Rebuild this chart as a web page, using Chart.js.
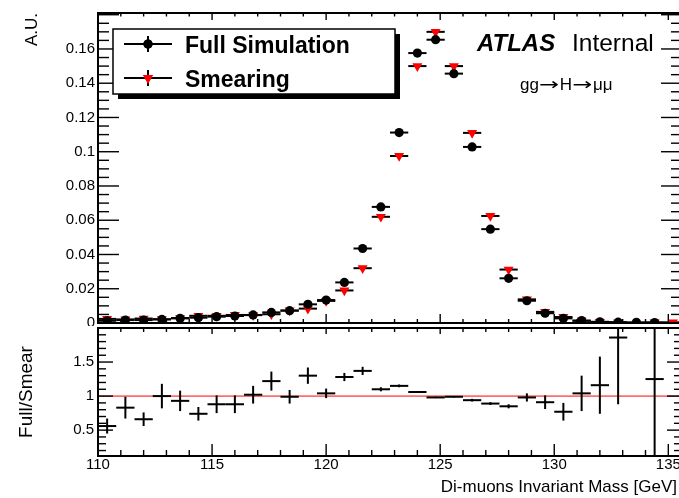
<!DOCTYPE html>
<html><head><meta charset="utf-8">
<script src="https://cdn.jsdelivr.net/npm/chart.js@4.4.1/dist/chart.umd.min.js"></script>
<style>
html,body{margin:0;padding:0;background:#fff;overflow:hidden;width:679px;height:498px}
canvas{position:absolute;left:0;top:0}
</style></head><body>
<canvas id="topChart" width="690" height="498"></canvas>
<canvas id="ratioChart" width="690" height="498"></canvas>
<script>
// ---------------- data ----------------
const massBins = [110.4,111.2,112.0,112.8,113.6,114.4,115.2,116.0,116.8,117.6,118.4,119.2,120.0,120.8,121.6,122.4,123.2,124.0,124.8,125.6,126.4,127.2,128.0,128.8,129.6,130.4,131.2,132.0,132.8,133.6,134.4,135.2];
const binHalfWidth = 0.4;
const fullSimulation = [0.0013,0.0017,0.0017,0.0021,0.0027,0.0031,0.0037,0.0041,0.0047,0.0062,0.0072,0.0109,0.0134,0.0237,0.0435,0.0678,0.1112,0.1576,0.1654,0.1456,0.1028,0.0548,0.0261,0.0130,0.0057,0.0027,0.0014,0.0007,0.0005,0.0004,0.0003,null];
const smearing = [0.0024,0.0021,0.0026,0.0022,0.0029,0.0042,0.0042,0.0047,0.0046,0.0051,0.0073,0.0084,0.0129,0.0190,0.0320,0.0620,0.0975,0.1500,0.1700,0.1500,0.1110,0.0625,0.0312,0.0138,0.0065,0.0035,0.0013,0.0006,0.0003,null,0.0003,0.0004];
const ratioFullSmear = [0.56,0.83,0.66,1.00,0.93,0.74,0.88,0.88,1.02,1.22,0.99,1.30,1.04,1.28,1.37,1.10,1.15,1.06,0.98,0.99,0.94,0.89,0.85,0.98,0.91,0.77,1.04,1.16,1.86,null,1.25,null];
const ratioError = [0.11,0.16,0.10,0.18,0.15,0.10,0.13,0.13,0.13,0.14,0.10,0.12,0.07,0.06,0.06,0.03,0.02,0.015,0.01,0.01,0.02,0.02,0.03,0.06,0.10,0.13,0.26,0.42,0.98,null,1.4,null];
const referenceLevel = 1;
const xTicks = [110,115,120,125,130,135];
const yTicksTop = [0,0.02,0.04,0.06,0.08,0.1,0.12,0.14,0.16];
const yTicksRatio = [0.5,1,1.5];
const seriesLabels = ['Full Simulation','Smearing'];

// ---------------- setup ----------------
const FONT = "'Liberation Sans', Arial, Helvetica, sans-serif";
Chart.defaults.font.family = FONT;
Chart.defaults.font.size = 15;
Chart.defaults.color = '#000';

const fmt = v => String(+(+v).toFixed(3));
const pts = (ys, errs) => massBins.map((x,i)=>({x, y: ys[i], xErr: binHalfWidth, yErr: errs ? errs[i] : 0}));

function seg(ctx,x1,y1,x2,y2){ctx.beginPath();ctx.moveTo(x1,y1);ctx.lineTo(x2,y2);ctx.stroke();}

const errorBarPlugin = {
  id: 'errorBars',
  drawBars(chart){
    const {ctx, chartArea:a, scales:{x,y}} = chart;
    ctx.save();
    ctx.beginPath(); ctx.rect(a.left, a.top, a.width, a.height); ctx.clip();
    chart.data.datasets.forEach(ds=>{
      if(!ds.errorBars) return;
      ctx.strokeStyle = '#000'; ctx.lineWidth = ds.errorBars;
      ds.data.forEach(p=>{
        if(p.y==null) return;
        const px=x.getPixelForValue(p.x), py=y.getPixelForValue(p.y);
        seg(ctx, x.getPixelForValue(p.x-p.xErr), py, x.getPixelForValue(p.x+p.xErr), py);
        if(p.yErr) seg(ctx, px, y.getPixelForValue(p.y-p.yErr), px, y.getPixelForValue(p.y+p.yErr));
      });
    });
    ctx.restore();
  },
  beforeDatasetsDraw(chart,args,o){ if(o.layer==='below') this.drawBars(chart); },
  afterDatasetsDraw(chart,args,o){ if(o.layer==='above') this.drawBars(chart); }
};

const frameTicksPlugin = {
  id: 'frameTicks',
  afterDraw(chart,args,o){
    const {ctx, chartArea:a, scales:{x,y}} = chart;
    ctx.save(); ctx.strokeStyle='#000'; ctx.lineWidth=1.4;
    const nx = Math.round((o.xTo-o.xFrom)/o.xMinor);
    for(let i=0;i<=nx;i++){
      const v=o.xFrom+i*o.xMinor, px=x.getPixelForValue(v);
      const major = Math.abs(v/o.xMajor-Math.round(v/o.xMajor))<1e-6;
      seg(ctx,px,a.bottom,px,a.bottom-(major?o.bMaj:o.bMin));
      seg(ctx,px,a.top,px,a.top+(major?o.tMaj:o.tMin));
    }
    const ny = Math.round((o.yTo-o.yFrom)/o.yMinor);
    for(let i=0;i<=ny;i++){
      const v=o.yFrom+i*o.yMinor, py=y.getPixelForValue(v);
      const major = Math.abs(v/o.yMajor-Math.round(v/o.yMajor))<1e-6;
      const L = major?o.lMaj:o.lMin;
      seg(ctx,a.left,py,a.left+L,py);
      seg(ctx,a.right,py,a.right-L,py);
    }
    ctx.lineWidth=2;
    ctx.strokeRect(a.left,a.top,a.width,a.height);
    if(o.xTitle){
      ctx.fillStyle='#000'; ctx.font='17px '+FONT; ctx.textAlign='right'; ctx.textBaseline='middle';
      ctx.fillText(o.xTitle.text,o.xTitle.x,o.xTitle.y);
    }
    ctx.restore();
  }
};

const legendPlugin = {
  id: 'rootLegend',
  afterDraw(chart,args,o){
    const ctx=chart.ctx, b=o.box;
    ctx.save();
    ctx.fillStyle='#000'; ctx.fillRect(b.x1+o.shadow,b.y1+o.shadow,b.x2-b.x1,b.y2-b.y1);
    ctx.fillStyle='#fff'; ctx.fillRect(b.x1,b.y1,b.x2-b.x1,b.y2-b.y1);
    ctx.strokeStyle='#000'; ctx.lineWidth=1.5; ctx.strokeRect(b.x1,b.y1,b.x2-b.x1,b.y2-b.y1);
    chart.data.datasets.forEach((ds,i)=>{
      const ry=o.rows[i];
      ctx.strokeStyle='#000'; ctx.lineWidth=2;
      seg(ctx,o.lineX1,ry,o.lineX2,ry);
      const mx=(o.lineX1+o.lineX2)/2;
      seg(ctx,mx,ry-o.vbar,mx,ry+o.vbar);
      ctx.fillStyle=ds.backgroundColor;
      ctx.beginPath();
      Chart.helpers.drawPoint(ctx,{pointStyle:ds.pointStyle,radius:ds.pointRadius,rotation:ds.rotation||0,borderWidth:0},mx,ry);
      ctx.fill();
      ctx.fillStyle='#000'; ctx.font='bold 23px '+FONT; ctx.textBaseline='alphabetic'; ctx.textAlign='left';
      ctx.fillText(ds.label,o.textX,ry+o.textDy);
    });
    // ATLAS label
    ctx.fillStyle='#000';
    ctx.font='italic bold 24px '+FONT; ctx.fillText('ATLAS',477,51);
    ctx.font='24.5px '+FONT; ctx.fillText('Internal',572,51);
    // process label, drawn piecewise (arrows stretched horizontally)
    const parts=[['gg',1],['\u2192',1.4],['H',1],['\u2192',1.4],['\u03bc\u03bc',1]];
    let cx=520;
    parts.forEach(([t,sx])=>{
      ctx.font = sx>1 ? "17px 'DejaVu Sans'" : '17px '+FONT;
      ctx.save(); ctx.translate(cx,90); ctx.scale(sx,1); ctx.fillText(t,0,0); ctx.restore();
      cx += ctx.measureText(t).width*sx + (sx>1?1:0);
    });
    ctx.restore();
  }
};

// ---------------- top chart ----------------
new Chart(document.getElementById('topChart'),{
  type:'scatter',
  data:{datasets:[
    {label:seriesLabels[0], data:pts(fullSimulation), pointStyle:'circle', pointRadius:4.6, backgroundColor:'#000', borderWidth:0, errorBars:2},
    {label:seriesLabels[1], data:pts(smearing), pointStyle:'triangle', rotation:180, pointRadius:5.8, backgroundColor:'#ff0000', borderWidth:0, errorBars:2}
  ]},
  options:{
    responsive:false, animation:false, events:[], devicePixelRatio:1,
    layout:{padding:{left:0,top:13,right:8,bottom:175}},
    plugins:{legend:{display:false},tooltip:{enabled:false},
      errorBars:{layer:'below'},
      frameTicks:{xFrom:110,xTo:135,xMinor:1,xMajor:5,bMaj:9,bMin:4,tMaj:7,tMin:3.5,yFrom:0,yTo:0.18,yMinor:0.005,yMajor:0.02,lMaj:21,lMin:11},
      rootLegend:{box:{x1:113,y1:29,x2:395,y2:94},shadow:5,rows:[44,78],lineX1:124,lineX2:172,vbar:8,textX:185,textDy:8.5}
    },
    scales:{
      x:{type:'linear',min:110,max:135.6,display:false},
      y:{type:'linear',min:0,max:0.181,
        afterFit:s=>{s.width=98;},
        afterBuildTicks:s=>{s.ticks=yTicksTop.map(v=>({value:v}));},
        grid:{display:false,drawTicks:false}, border:{display:false},
        ticks:{padding:3,callback:fmt,font:{size:15}},
        title:{display:true,text:'A.U.',align:'end',font:{size:17},padding:{top:22,bottom:0}}
      }
    }
  },
  plugins:[errorBarPlugin,frameTicksPlugin,legendPlugin]
});

// ---------------- ratio chart ----------------
const coverPlugin = {id:'cover',beforeDraw(chart){const c=chart.ctx;c.save();c.fillStyle='#fff';c.fillRect(0,326,chart.width,chart.height-326);c.restore();}};
new Chart(document.getElementById('ratioChart'),{
  type:'scatter',
  data:{datasets:[
    {label:'Full/Smear', data:pts(ratioFullSmear,ratioError), pointRadius:0, errorBars:2},
    {type:'line', label:'reference', data:[{x:110,y:referenceLevel},{x:135.6,y:referenceLevel}], borderColor:'#ff0000', borderWidth:1, pointRadius:0}
  ]},
  options:{
    responsive:false, animation:false, events:[], devicePixelRatio:1,
    layout:{padding:{left:0,top:328,right:8,bottom:0}},
    plugins:{legend:{display:false},tooltip:{enabled:false},
      errorBars:{layer:'above'},
      frameTicks:{xFrom:110,xTo:135,xMinor:1,xMajor:5,bMaj:12,bMin:6,tMaj:6,tMin:4,yFrom:0.2,yTo:1.9,yMinor:0.1,yMajor:0.5,lMaj:15,lMin:8,
        xTitle:{text:'Di-muons Invariant Mass [GeV]',x:677,y:487}}
    },
    scales:{
      x:{type:'linear',min:110,max:135.6,
        afterFit:s=>{s.height=42;},
        afterBuildTicks:s=>{s.ticks=xTicks.map(v=>({value:v}));},
        grid:{display:false,drawTicks:false}, border:{display:false},
        ticks:{padding:0,maxRotation:0,autoSkip:false,callback:fmt,font:{size:15}}
      },
      y:{type:'linear',min:0.12,max:2.0,
        afterFit:s=>{s.width=98;},
        afterBuildTicks:s=>{s.ticks=yTicksRatio.map(v=>({value:v}));},
        grid:{display:false,drawTicks:false}, border:{display:false},
        ticks:{padding:4,callback:fmt,font:{size:15}},
        title:{display:true,text:'Full/Smear',align:'center',font:{size:19},padding:{top:15.5,bottom:0}}
      }
    }
  },
  plugins:[coverPlugin,errorBarPlugin,frameTicksPlugin]
});
</script>
</body></html>
